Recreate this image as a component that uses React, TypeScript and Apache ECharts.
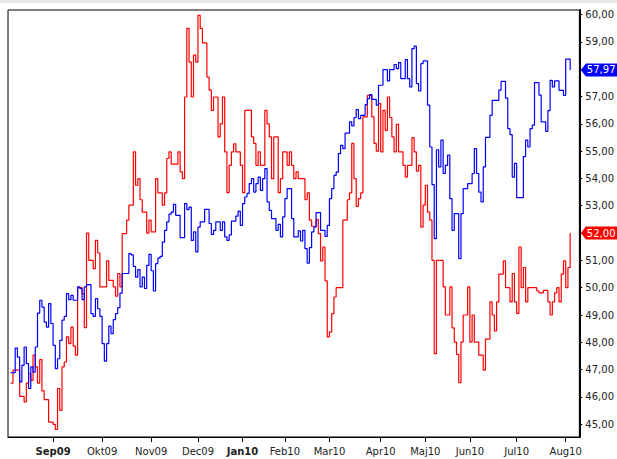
import React, { useEffect, useRef } from 'react';
import * as echarts from 'echarts';

// month tick positions in trading-day index (0 = first trading day of Sep 2009)
const monthTicks = [0, 22, 44, 65, 85, 104, 124, 147, 167, 187, 208, 230];
const monthNames = ['Sep09', 'Okt09', 'Nov09', 'Dec09', 'Jan10', 'Feb10', 'Mar10', 'Apr10', 'Maj10', 'Jun10', 'Jul10', 'Aug10'];
const boldMonths = ['Sep09', 'Jan10'];
const yTicks = [45, 46, 47, 48, 49, 50, 51, 52, 53, 54, 55, 56, 57, 58, 59, 60];

const X_MIN = -20.23;
const X_MAX = 236.13;
const Y_MIN = 44.535;
const Y_MAX = 60.165;

// [trading day, value] at each step change
const blueSeries: [number, number][] = [
  [-19, 46.89], [-17, 47.79], [-16, 47.46], [-15, 46.55], [-14, 47.16], [-13, 47.83], [-12, 47.22], [-11, 46.31], [-10, 47.1], [-9, 46.91],
  [-8, 47.83], [-7, 49.07], [-6, 49.54], [-5, 49.29], [-4, 48.74], [-3, 48.56], [-2, 49.42], [-1, 48.69], [0, 47.89], [1, 47.04],
  [2, 47.4], [3, 48.07], [4, 48.81], [5, 48.95], [6, 49.78], [7, 49.56], [8, 49.72], [9, 49.54], [11, 50.03], [12, 49.97],
  [13, 49.56], [14, 50.03], [15, 50.11], [17, 49.05], [18, 48.95], [19, 49.6], [20, 49.23], [21, 48.95], [22, 47.95], [23, 47.31],
  [24, 47.95], [25, 48.59], [26, 48.32], [27, 48.83], [28, 49.05], [29, 49.27], [30, 49.8], [31, 50.52], [34, 51.25], [35, 51.2],
  [36, 50.78], [37, 50.39], [38, 50.66], [39, 50.03], [40, 50.39], [41, 49.97], [42, 50.82], [43, 51.22], [44, 50.62], [45, 49.88],
  [46, 50.88], [47, 51.08], [48, 51.15], [49, 51.67], [50, 52.1], [51, 52.41], [52, 52.69], [53, 52.77], [54, 53.05], [55, 52.65],
  [57, 51.83], [59, 53.08], [60, 52.86], [61, 52.95], [62, 51.73], [63, 52.04], [64, 51.31], [65, 52.22], [66, 52.41], [68, 52.87],
  [70, 52.35], [71, 51.95], [72, 52.1], [73, 52.41], [75, 52.1], [76, 52.41], [77, 51.86], [78, 51.73], [79, 51.93], [80, 52.44],
  [82, 52.62], [83, 52.8], [84, 52.28], [85, 53.08], [86, 53.32], [87, 53.45], [88, 53.81], [89, 53.99], [90, 53.5], [91, 53.81],
  [92, 54.05], [93, 53.56], [94, 53.99], [95, 54.36], [96, 53.14], [97, 52.83], [98, 52.53], [100, 52.1], [101, 52.32], [102, 51.86],
  [103, 52.59], [104, 53.26], [105, 53.63], [107, 52.53], [108, 51.86], [110, 52.08], [111, 51.71], [112, 52.1], [113, 51.43], [114, 50.9],
  [115, 51.47], [116, 52.04], [117, 52.22], [118, 52.75], [120, 52.1], [122, 51.88], [123, 52.28], [124, 53.26], [125, 53.63], [126, 54.11],
  [127, 54.23], [128, 54.91], [129, 55.21], [130, 55.09], [131, 55.66], [133, 56.07], [134, 55.92], [135, 56.23], [136, 56.52], [137, 56.19],
  [138, 56.31], [140, 56.7], [141, 56.92], [142, 57.07], [143, 56.89], [145, 56.68], [146, 57.41], [148, 57.98], [150, 57.57], [151, 57.98],
  [153, 58.17], [154, 58.02], [155, 58.24], [156, 57.65], [158, 58.35], [159, 57.65], [160, 57.35], [161, 58.75], [162, 58.84], [163, 57.47],
  [164, 57.2], [165, 58.2], [166, 58.3], [168, 56.68], [169, 55.15], [170, 53.77], [171, 51.8], [172, 55.05], [173, 54.42], [174, 55.4],
  [175, 54.18], [176, 54.48], [177, 54.85], [178, 53.26], [179, 52.1], [180, 52.71], [182, 51.06], [183, 52.71], [184, 53.63], [186, 53.81],
  [188, 54.18], [189, 55.09], [190, 54.18], [191, 53.5], [192, 53.14], [193, 54.42], [194, 55.5], [196, 56.31], [197, 56.86], [200, 57.23],
  [201, 57.55], [203, 56.94], [204, 55.82], [205, 55.6], [206, 54.05], [207, 54.55], [208, 53.3], [211, 54.8], [212, 55.4], [213, 55.15],
  [214, 55.82], [215, 55.95], [216, 57.51], [218, 57.05], [219, 56.07], [221, 55.72], [222, 56.48], [223, 57.59], [224, 57.35], [225, 57.57],
  [227, 57.22], [229, 57.04], [230, 58.37], [232, 57.97],
];

const redSeries: [number, number][] = [
  [-19, 46.51], [-18, 46.98], [-15, 46.02], [-13, 45.82], [-12, 46.51], [-11, 46.86], [-10, 46.61], [-9, 47.53], [-8, 47.1], [-7, 46.51],
  [-6, 47.37], [-5, 46.22], [-4, 45.9], [-2, 45.08], [0, 45.0], [1, 44.81], [2, 46.31], [3, 45.51], [4, 47.1], [5, 47.28],
  [6, 48.2], [7, 47.95], [8, 48.56], [9, 47.86], [10, 47.53], [11, 50.0], [13, 49.78], [14, 48.54], [15, 52.0], [16, 51.0],
  [18, 50.7], [19, 51.73], [20, 51.27], [21, 50.03], [24, 50.98], [25, 50.27], [27, 50.03], [28, 49.69], [29, 50.52], [30, 50.03],
  [31, 51.98], [33, 52.47], [34, 53.02], [36, 54.97], [37, 53.75], [38, 53.99], [39, 53.22], [40, 52.77], [42, 52.0], [43, 52.47],
  [44, 52.04], [46, 53.99], [47, 53.47], [49, 53.02], [50, 53.47], [51, 54.73], [52, 54.97], [53, 54.52], [56, 54.97], [57, 54.24],
  [58, 53.99], [59, 56.98], [60, 59.49], [61, 58.26], [62, 56.98], [63, 58.51], [64, 58.26], [65, 59.97], [66, 59.49], [67, 58.96],
  [69, 57.71], [70, 57.23], [71, 56.49], [72, 56.98], [74, 55.52], [75, 56.0], [76, 56.98], [77, 54.97], [78, 53.48], [79, 54.48],
  [80, 54.97], [81, 55.27], [82, 54.97], [84, 54.48], [85, 53.48], [86, 56.49], [89, 55.52], [90, 55.28], [91, 54.48], [92, 54.97],
  [93, 54.48], [95, 56.49], [96, 56.0], [97, 55.52], [98, 53.99], [99, 55.52], [101, 53.48], [102, 53.99], [103, 54.97], [105, 54.48],
  [106, 54.97], [107, 54.48], [108, 53.99], [109, 54.24], [110, 53.99], [113, 53.22], [114, 53.47], [115, 52.47], [116, 52.25], [118, 52.49],
  [119, 51.98], [120, 50.98], [121, 51.49], [122, 50.25], [123, 48.2], [124, 48.38], [125, 49.05], [126, 49.66], [127, 50.0], [130, 52.47],
  [132, 53.22], [133, 53.47], [134, 55.28], [135, 53.99], [136, 52.98], [137, 53.26], [138, 53.47], [139, 56.25], [141, 57.04], [143, 56.25],
  [144, 55.28], [145, 55.0], [146, 56.74], [147, 54.97], [148, 56.49], [149, 55.76], [150, 56.98], [151, 56.23], [152, 55.52], [153, 54.97],
  [154, 55.98], [155, 54.97], [157, 54.48], [158, 54.05], [159, 54.48], [161, 55.49], [162, 54.97], [163, 54.27], [164, 54.48], [165, 52.22],
  [166, 53.02], [167, 53.75], [168, 52.77], [169, 52.47], [170, 51.0], [171, 47.59], [172, 51.0], [175, 50.03], [176, 49.0], [178, 50.03],
  [179, 48.53], [180, 48.01], [181, 47.56], [182, 46.52], [183, 48.01], [184, 49.0], [186, 50.03], [187, 48.01], [188, 49.0], [189, 48.01],
  [191, 47.53], [193, 46.98], [194, 48.12], [196, 49.48], [197, 49.0], [198, 48.42], [199, 49.48], [200, 50.5], [202, 50.98], [203, 50.0],
  [205, 49.48], [206, 50.52], [207, 49.48], [208, 49.06], [209, 51.49], [210, 50.0], [211, 50.74], [212, 49.48], [213, 50.0], [217, 49.88],
  [218, 49.81], [220, 49.9], [222, 49.48], [223, 49.0], [224, 49.48], [225, 49.81], [226, 50.0], [227, 49.48], [228, 50.5], [229, 50.98],
  [230, 50.0], [231, 50.74], [232, 52.0],
];

const BLUE = '#0000ff';
const RED = '#ff0000';
const FONT = 'DejaVu Sans';
const TEXT = '#222222';

const fmt = (v: number) => v.toFixed(2).replace('.', ',');

export default function App() {
  const ref = useRef<HTMLDivElement>(null);

  useEffect(() => {
    const chart = echarts.init(ref.current!, null, { renderer: 'svg' });
    const tags = [
      { value: blueSeries[blueSeries.length - 1][1], color: BLUE },
      { value: redSeries[redSeries.length - 1][1], color: RED },
    ];
    const visibleYTicks = yTicks.filter((v) => tags.every((t) => Math.abs(t.value - v) > 0.5));

    chart.setOption({
      animation: false,
      backgroundColor: '#ffffff',
      grid: { left: 8, right: 35, top: 10, bottom: 22, show: true, borderColor: '#000', borderWidth: 1 },
      xAxis: {
        type: 'value',
        min: X_MIN,
        max: X_MAX,
        axisLine: { show: true, onZero: false, lineStyle: { color: '#000', width: 1 } },
        axisTick: { show: true, customValues: monthTicks, length: 5, lineStyle: { color: '#000' } },
        axisLabel: {
          customValues: monthTicks,
          margin: 9,
          fontSize: 10,
          fontFamily: FONT,
          color: TEXT,
          formatter: (v: number) => {
            const i = monthTicks.indexOf(Math.round(v));
            const name = i >= 0 ? monthNames[i] : '';
            return boldMonths.includes(name) ? `{b|${name}}` : name;
          },
          rich: { b: { fontWeight: 'bold', fontSize: 10, fontFamily: FONT, color: TEXT } },
        },
        splitLine: { show: false },
      },
      yAxis: {
        type: 'value',
        position: 'right',
        min: Y_MIN,
        max: Y_MAX,
        axisLine: { show: true, onZero: false, lineStyle: { color: '#000', width: 2 } },
        axisTick: { show: true, customValues: yTicks, length: 3, lineStyle: { color: '#000' } },
        axisLabel: {
          customValues: visibleYTicks,
          margin: 6,
          fontSize: 10,
          fontFamily: FONT,
          color: TEXT,
          formatter: (v: number) => fmt(v),
        },
        splitLine: { show: false },
      },
      series: [
        {
          type: 'line',
          step: 'end',
          data: redSeries,
          showSymbol: false,
          symbol: 'none',
          lineStyle: { color: RED, width: 1.2 },
          itemStyle: { color: RED },
        },
        {
          type: 'line',
          step: 'end',
          data: blueSeries,
          showSymbol: false,
          symbol: 'none',
          lineStyle: { color: BLUE, width: 1.2 },
          itemStyle: { color: BLUE },
        },
      ],
    });

    const xr = chart.convertToPixel({ xAxisIndex: 0 }, X_MAX) as number;
    const x0 = xr + 1.5;
    const graphics: any[] = [
      { type: 'rect', shape: { x: 0, y: 0, width: 617, height: 3 }, style: { fill: '#e8e8e8' }, z: 100 },
    ];
    tags.forEach((t) => {
      const y = chart.convertToPixel({ yAxisIndex: 0 }, t.value) as number;
      graphics.push({
        type: 'polygon',
        z: 100,
        shape: { points: [[x0, y], [x0 + 5, y - 6.5], [617, y - 6.5], [617, y + 6.5], [x0 + 5, y + 6.5]] },
        style: { fill: t.color },
      });
      graphics.push({
        type: 'text',
        z: 101,
        x: x0 + 6,
        y,
        style: { text: fmt(t.value), fill: '#ffffff', fontSize: 10, fontFamily: FONT, verticalAlign: 'middle', align: 'left' },
      });
    });
    chart.setOption({ graphic: graphics });

    return () => chart.dispose();
  }, []);

  return <div ref={ref} style={{ position: 'absolute', left: 0, top: 0, width: 617, height: 459 }} />;
}
